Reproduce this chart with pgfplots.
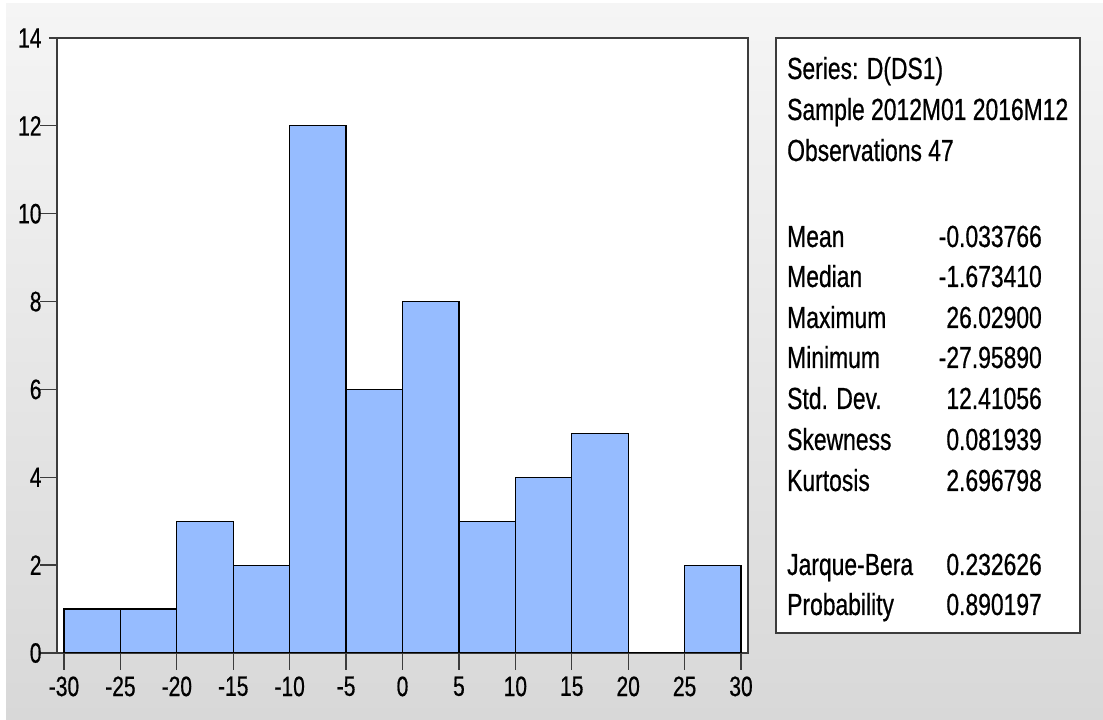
\documentclass[border=0pt]{standalone}
\usepackage{fontspec}
\setmainfont[FakeStretch=0.75, FakeBold=0.6]{Liberation Sans}
\usepackage{pgfplots}
\pgfplotsset{compat=1.18}
\definecolor{barblue}{RGB}{150,188,255}
\definecolor{bgtop}{RGB}{245,245,245}
\definecolor{bgbot}{RGB}{216,216,216}
\definecolor{frame}{RGB}{60,60,60}
\begin{document}
\begin{tikzpicture}[x=1bp,y=1bp]
\useasboundingbox (0,0) rectangle (1103,720);
\fill[white] (0,0) rectangle (1103,720);
\shade[top color=bgtop, bottom color=bgbot] (6,0) rectangle (1103,716);
\begin{axis}[
  at={(57bp,67bp)}, anchor=south west,
  scale only axis, width=691bp, height=615bp,
  xmin=-30.62, xmax=30.62, ymin=0, ymax=14,
  axis background/.style={fill=white},
  xtick={-30,-25,...,30}, ytick={0,2,...,14},
  xtick pos=left, ytick pos=left,
  tick align=outside,
  major tick length=17bp,
  tick style={draw=frame, line width=1.3bp},
  every y tick/.style={shorten <=9bp},
  axis line style={draw=frame, line width=1.6bp},
  xticklabel style={font=\fontsize{28bp}{32bp}\selectfont, text=black, yshift=-3bp},
  yticklabel style={font=\fontsize{28bp}{32bp}\selectfont, text=black, xshift=5bp},
  /pgf/number format/assume math mode=true,
]
\addplot[ybar interval, fill=barblue, draw=black, line width=1.2bp] coordinates {
 (-30,1) (-25,1) (-20,3) (-15,2) (-10,12) (-5,6) (0,8) (5,3) (10,4) (15,5) (20,0) (25,2) (30,0)};
\end{axis}
\draw[frame, line width=1.6bp, fill=white] (776,87) rectangle (1080,682);
\begin{scope}[every node/.style={inner sep=0pt, font=\fontsize{30.5bp}{34bp}\selectfont}]
\node[anchor=base west] at (787,641) {Series: D(DS1)};
\node[anchor=base west] at (787,600) {Sample 2012M01 2016M12};
\node[anchor=base west] at (787,559) {Observations 47};
\node[anchor=base west] at (787,473) {Mean};
\node[anchor=base west] at (787,433) {Median};
\node[anchor=base west] at (787,392) {Maximum};
\node[anchor=base west] at (787,352) {Minimum};
\node[anchor=base west] at (787,311) {Std. Dev.};
\node[anchor=base west] at (787,270) {Skewness};
\node[anchor=base west] at (787,229) {Kurtosis};
\node[anchor=base west] at (787,145) {Jarque-Bera};
\node[anchor=base west] at (787,105) {Probability};
\node[anchor=base east] at (1042,473) {-0.033766};
\node[anchor=base east] at (1042,433) {-1.673410};
\node[anchor=base east] at (1042,392) {26.02900};
\node[anchor=base east] at (1042,352) {-27.95890};
\node[anchor=base east] at (1042,311) {12.41056};
\node[anchor=base east] at (1042,270) {0.081939};
\node[anchor=base east] at (1042,229) {2.696798};
\node[anchor=base east] at (1042,145) {0.232626};
\node[anchor=base east] at (1042,105) {0.890197};
\end{scope}
\end{tikzpicture}
\end{document}
